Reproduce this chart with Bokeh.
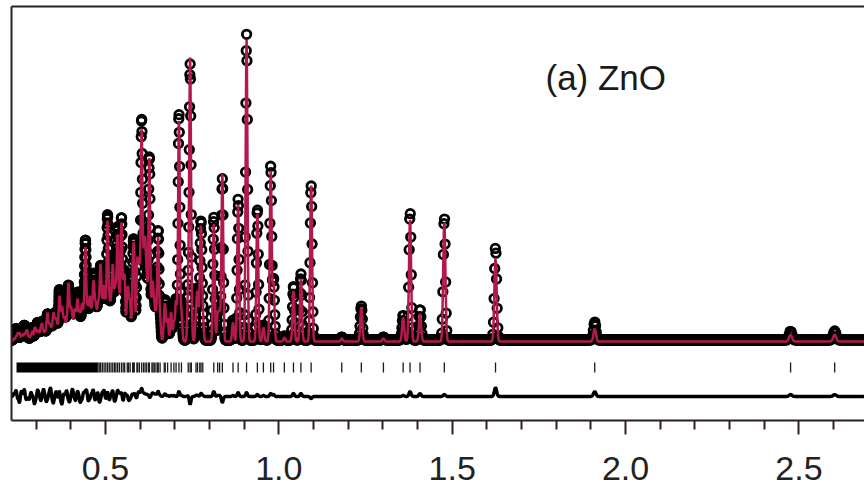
import numpy as np
from bokeh.plotting import figure
from bokeh.models import Range1d, LinearAxis, FixedTicker, Label, PrintfTickFormatter, ColumnDataSource
from bokeh.embed import file_html
from bokeh.resources import INLINE

# ---------------- data ----------------
# reflection d-spacings (Angstrom)
peak_d = [0.236, 0.242, 0.247, 0.252, 0.257, 0.261, 0.266, 0.271, 0.275, 0.280,
          0.285, 0.289, 0.295, 0.299, 0.304, 0.308, 0.313, 0.317, 0.321, 0.325,
          0.329, 0.333, 0.338, 0.342, 0.346, 0.350, 0.354, 0.358, 0.362, 0.367,
          0.371, 0.375, 0.379, 0.383, 0.388, 0.393, 0.397, 0.401, 0.405, 0.410,
          0.414, 0.419, 0.423, 0.427, 0.432, 0.437, 0.442, 0.446, 0.450, 0.455,
          0.460, 0.465, 0.469, 0.473, 0.478, 0.482, 0.486, 0.491, 0.496, 0.501,
          0.506, 0.511, 0.516, 0.521, 0.526, 0.530, 0.535, 0.540, 0.546, 0.551,
          0.5554, 0.5629, 0.5667, 0.5712, 0.5784, 0.5803, 0.5830, 0.5907, 0.5931, 0.5977,
          0.6042, 0.6096, 0.6142, 0.6190, 0.6246, 0.6267, 0.6340, 0.6370, 0.6408, 0.6457,
          0.6508, 0.6520, 0.6576, 0.6694, 0.6724, 0.6792, 0.6892, 0.6973, 0.7036, 0.7119,
          0.7191, 0.7386, 0.7441, 0.7477, 0.7611, 0.7655, 0.7720, 0.7756, 0.7806, 0.8124,
          0.8237, 0.8292, 0.8371, 0.8678, 0.8826, 0.9069, 0.9381, 0.9555, 0.9766, 0.9847,
          1.0159, 1.0422, 1.0637, 1.0931, 1.1814, 1.2379, 1.3016, 1.3585, 1.3784, 1.4072,
          1.4772, 1.6249, 1.9110, 2.4758, 2.6030]
# observed peak heights (arbitrary counts)
peak_obs = [6, 11, 6, 2, 9, 8, 14, 6, 8, 1,
            9, 10, 4, 9, 15, 11, 7, 14, 15, 9,
            5, 24, 19, 19, 8, 18, 18, 23, 10, 47,
            15, 22, 19, 21, 24, 50, 18, 29, 26, 24,
            20, 42, 22, 18, 31, 32, 92, 29, 24, 39,
            30, 59, 27, 27, 36, 22, 67, 38, 57, 29,
            120, 33, 38, 77, 33, 41, 106, 41, 118, 38,
            62, 44, 30, 32, 42, 33, 68, 41, 52, 72,
            215, 70, 90, 60, 30, 162, 40, 35, 30, 26,
            20, 90, 22, 18, 30, 24, 30, 20, 40, 226,
            30, 50, 265, 20, 25, 45, 30, 105, 25, 123,
            28, 28, 161, 20, 141, 306, 131, 15, 174, 60,
            4, 54, 66, 155, 3, 34, 3, 25, 128, 31,
            123, 93, 18, 9, 9]
# calculated peak heights (arbitrary counts)
peak_calc = [3, 5, 8, 8, 4, 6, 7, 9, 9, 4,
             5, 9, 11, 11, 9, 8, 11, 15, 8, 7,
             10, 26, 15, 11, 11, 24, 17, 18, 12, 41,
             19, 29, 16, 20, 18, 53, 23, 27, 19, 25,
             24, 37, 20, 24, 34, 28, 88, 23, 29, 41,
             27, 52, 31, 28, 31, 28, 69, 34, 51, 32,
             115, 37, 36, 71, 38, 42, 100, 38, 114, 43,
             58, 42, 34, 34, 38, 36, 64, 44, 48, 68,
             207, 67, 88, 58, 28, 164, 38, 33, 28, 24,
             20, 85, 21, 17, 28, 23, 29, 19, 40, 221,
             29, 49, 273, 20, 24, 44, 30, 102, 24, 118,
             27, 27, 167, 19, 137, 302, 129, 14, 171, 58,
             4, 51, 63, 157, 3, 34, 3, 24, 123, 28,
             121, 84, 13, 7, 7]

obs_background = 1.5
calc_background = 0.0
dense_reflection_band = (0.2435, 0.478)   # solid block of tick marks at short d

x_start, x_end = 0.229, 2.689
major_ticks = [0.5, 1.0, 1.5, 2.0, 2.5]
minor_ticks = [0.3, 0.4, 0.6, 0.7, 0.8, 0.9, 1.1, 1.2, 1.3, 1.4, 1.6, 1.7, 1.8, 1.9,
               2.1, 2.2, 2.3, 2.4, 2.6]

# ---------------- profile through the instrument function ----------------
STEP = 0.0011  # constant delta-d/d sampling (TOF)
n = int(np.log(x_end / x_start) / np.log(1 + STEP)) + 1
d = x_start * (1 + STEP) ** np.arange(n)

pd_ = np.array(peak_d)
sig = 0.0018 + 0.0009 * pd_
G = np.exp(-0.5 * ((d[:, None] - pd_[None, :]) / sig[None, :]) ** 2)
obs = obs_background + G @ np.array(peak_obs, float)
calc = calc_background + G @ np.array(peak_calc, float)
DIFF_OFFSET = -56.5
diff = obs - calc + DIFF_OFFSET

refl = [v for v in peak_d if v >= dense_reflection_band[1]]
TICK_TOP, TICK_BOT = -21, -31

# ---------------- figure ----------------
FRAME = "#2b2024"
p = figure(width=864, height=489, output_backend="svg", toolbar_location=None,
           x_range=Range1d(x_start, x_end), y_range=Range1d(-79, 335),
           min_border_left=11, min_border_right=0, min_border_top=6, min_border_bottom=69,
           x_axis_location=None, y_axis_location=None)
p.outline_line_color = None
p.background_fill_color = "white"
p.border_fill_color = "white"
for g in p.grid:
    g.visible = False

xax = LinearAxis(ticker=FixedTicker(ticks=major_ticks, minor_ticks=minor_ticks),
                 formatter=PrintfTickFormatter(format="%.1f"))
xax.axis_line_width = 2
xax.axis_line_color = FRAME
xax.major_tick_line_width = 2
xax.minor_tick_line_width = 2
xax.major_tick_line_color = FRAME
xax.minor_tick_line_color = FRAME
xax.major_tick_out = 14
xax.major_tick_in = 0
xax.minor_tick_out = 9
xax.minor_tick_in = 0
xax.major_label_standoff = 22
xax.major_label_text_font = "Liberation Sans"
xax.major_label_text_font_size = "34px"
xax.major_label_text_color = "#222222"
p.add_layout(xax, "below")

for loc in ("left", "above"):
    ax = LinearAxis(ticker=FixedTicker(ticks=[]))
    ax.axis_line_width = 2
    ax.axis_line_color = FRAME
    ax.major_tick_out = 0
    ax.major_tick_in = 0
    ax.minor_tick_out = 0
    ax.minor_tick_in = 0
    ax.major_label_standoff = 0
    ax.major_label_text_font_size = "0px"
    p.add_layout(ax, loc)

src = ColumnDataSource(dict(d=d, obs=obs, calc=calc, diff=diff))
p.scatter("d", "obs", source=src, marker="circle", size=8.5, fill_color=None,
          line_color="black", line_width=2.8)
p.line("d", "calc", source=src, line_color="#B3194C", line_width=2.5)

# reflection tick marks
p.quad(left=[dense_reflection_band[0]], right=[dense_reflection_band[1]],
       bottom=[TICK_BOT], top=[TICK_TOP], fill_color="black", line_color=None)
p.segment(x0=refl, y0=[TICK_BOT] * len(refl), x1=refl, y1=[TICK_TOP] * len(refl),
          line_color="#1a1a1a", line_width=1.3)

# difference curve
p.line("d", "diff", source=src, line_color="black", line_width=3.4)

p.add_layout(Label(x=1.769, y=264, text="(a) ZnO", text_font="Liberation Sans",
                   text_font_size="35px", text_baseline="alphabetic",
                   text_color="#1a1a1a"))

open("out.html", "w").write(file_html(p, INLINE))
